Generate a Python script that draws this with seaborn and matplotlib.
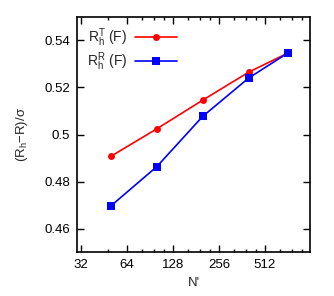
import pandas as pd
import seaborn as sns
import matplotlib
matplotlib.use('Agg')
import matplotlib.pyplot as plt
from matplotlib.ticker import FixedLocator, FixedFormatter

# data
n_prime = [50, 100, 200, 400, 720]
rh_T = [0.4907, 0.5024, 0.5146, 0.5265, 0.5346]
rh_R = [0.4696, 0.4863, 0.5077, 0.5240, 0.5346]
x_ticks = [32, 64, 128, 256, 512]
x_minor = [48, 80, 96, 112, 160, 192, 224, 320, 384, 448, 640, 768, 896]
y_ticks = [0.46, 0.48, 0.50, 0.52, 0.54]
y_labels = ['0.46', '0.48', '0.5', '0.52', '0.54']

df = pd.DataFrame({'N': n_prime, 'T': rh_T, 'R': rh_R})

sns.set_style('ticks')
plt.rcParams['font.family'] = ['Liberation Sans', 'DejaVu Sans']
plt.rcParams['mathtext.fontset'] = 'custom'
plt.rcParams['mathtext.rm'] = 'Liberation Sans'
plt.rcParams['mathtext.it'] = 'Liberation Sans'
plt.rcParams['mathtext.sf'] = 'Liberation Sans'

fs = 9.5
fig = plt.figure(figsize=(3.34, 2.96), dpi=100)
ax = fig.add_axes([0.2305, 0.1486, 0.6975, 0.794])

sns.lineplot(data=df, x='N', y='T', ax=ax, color='#ff0000', marker='o',
             markersize=5, markeredgewidth=0, linewidth=1.2,
             label=r'R$_\mathrm{h}^\mathrm{T}$ (F)')
sns.lineplot(data=df, x='N', y='R', ax=ax, color='#0000ff', marker='s',
             markersize=5.2, markeredgewidth=0, linewidth=1.2,
             label=r'R$_\mathrm{h}^\mathrm{R}$ (F)')

ax.set_xscale('log', base=2)
ax.set_xlim(30, 1010)
ax.set_ylim(0.45, 0.55)
ax.xaxis.set_major_locator(FixedLocator(x_ticks))
ax.xaxis.set_major_formatter(FixedFormatter([str(t) for t in x_ticks]))
ax.xaxis.set_minor_locator(FixedLocator(x_minor))
ax.xaxis.set_minor_formatter(FixedFormatter([''] * len(x_minor)))
ax.yaxis.set_major_locator(FixedLocator(y_ticks))
ax.yaxis.set_major_formatter(FixedFormatter(y_labels))

ax.tick_params(which='both', direction='in', top=True, right=True,
               labelsize=fs, width=1.0, colors='black')
ax.tick_params(which='major', length=5, pad=5)
ax.tick_params(which='minor', length=2.5)
for s in ax.spines.values():
    s.set_linewidth(1.2)
    s.set_color('black')

ax.set_xlabel("N'", fontsize=fs, labelpad=4)
ax.set_ylabel(r'(R$_\mathrm{h}$$-$R)/$\sigma$', fontsize=fs, labelpad=10)

ax.legend(loc='upper left', frameon=False, markerfirst=False, fontsize=fs + 0.5,
          handlelength=3.0, borderaxespad=0.3, labelspacing=0.1,
          handletextpad=0.6)

fig.savefig('out.png', dpi=100)
